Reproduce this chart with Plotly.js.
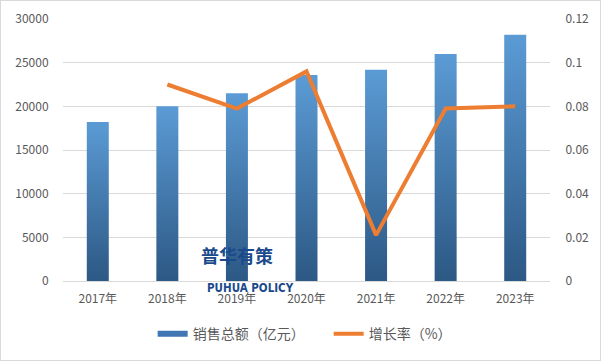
<!DOCTYPE html>
<html>
<head>
<meta charset="utf-8">
<script src="https://cdn.plot.ly/plotly-3.0.1.min.js"></script>
<style>
html,body{margin:0;padding:0;background:#fff;}
#chart{width:599px;height:359px;border:1px solid #d9d9d9;}
</style>
</head>
<body>
<div id="chart"></div>
<script>
const years = ['2017年','2018年','2019年','2020年','2021年','2022年','2023年'];
const sales = [18200, 20000, 21500, 23600, 24200, 26000, 28200];
const growth = [null, 0.090, 0.079, 0.096, 0.021, 0.079, 0.080];
const salesName = '销售总额（亿元）';
const growthName = '增长率（%）';

const FONT = '"Noto Sans CJK SC", "Noto Sans", sans-serif';
const GRAY = '#595959';

const traces = [
  {type:'bar', x:years, y:sales, name:salesName, marker:{color:'#4a86c5'}, hoverinfo:'none'},
  {type:'scatter', mode:'lines', x:years, y:growth, yaxis:'y2', name:growthName,
   line:{color:'#ED7D31', width:4}, connectgaps:false, hoverinfo:'none'}
];

const layout = {
  width:599, height:359,
  margin:{l:62, r:50, t:18, b:79},
  paper_bgcolor:'#fff', plot_bgcolor:'#fff',
  font:{family:FONT, size:12, color:GRAY},
  bargap:0.684,
  showlegend:true,
  legend:{orientation:'h', x:0.547, xanchor:'center', xref:'container', y:0.072, yanchor:'middle', yref:'container',
          font:{family:FONT, size:14, color:GRAY}, itemwidth:30, traceorder:'normal', entrywidth:131},
  xaxis:{type:'category', showgrid:false, showline:true, linecolor:'#d9d9d9', linewidth:1,
         ticks:'outside', ticklen:7, tickcolor:'rgba(0,0,0,0)',
         tickfont:{family:FONT, size:12, color:GRAY}},
  yaxis:{range:[0,30000], dtick:5000, tickformat:'d', showgrid:true, gridcolor:'#d9d9d9',
         zeroline:false, showline:false, ticks:'outside', ticklen:11, tickcolor:'rgba(0,0,0,0)',
         tickfont:{family:FONT, size:12, color:GRAY}},
  yaxis2:{range:[0,0.12], dtick:0.02, overlaying:'y', side:'right', showgrid:false,
          zeroline:false, showline:false, ticks:'outside', ticklen:12, tickcolor:'rgba(0,0,0,0)',
          tickfont:{family:FONT, size:12, color:GRAY}},
  annotations:[
    {xref:'paper', yref:'paper', x:0.357, y:0.042, text:'<b>普华有策</b>', showarrow:false,
     font:{family:'"Noto Sans CJK SC"', size:18, color:'#1a4a8c'}},
    {xref:'paper', yref:'paper', x:0.384, y:-0.061, text:'<b>PUHUA POLICY</b>', showarrow:false,
     font:{family:'"DejaVu Sans Condensed", "DejaVu Sans"', size:11.5, color:'#1a4a8c'}}
  ]
};

Plotly.newPlot('chart', traces, layout, {staticPlot:true}).then(function(gd){
  const svg = gd.querySelector('.main-svg');
  const ns = 'http://www.w3.org/2000/svg';
  let defs = svg.querySelector('defs');
  if(!defs){ defs = document.createElementNS(ns,'defs'); svg.insertBefore(defs, svg.firstChild); }
  const g = document.createElementNS(ns,'linearGradient');
  g.setAttribute('id','barGrad'); g.setAttribute('x1','0'); g.setAttribute('y1','0');
  g.setAttribute('x2','0'); g.setAttribute('y2','1');
  [['0','#5b9bd5'],['1','#2c5884']].forEach(function(s){
    const st = document.createElementNS(ns,'stop');
    st.setAttribute('offset', s[0]); st.setAttribute('stop-color', s[1]);
    g.appendChild(st);
  });
  defs.appendChild(g);
  gd.querySelectorAll('.barlayer .point path').forEach(function(p){ p.style.fill='url(#barGrad)'; });
  const lp = gd.querySelectorAll('.legend .traces')[0];
  if(lp){ lp.querySelectorAll('.legendpoints path').forEach(function(p){
    p.setAttribute('d','M15,3H-15V-3H15Z'); p.style.fill='#3f76b3'; }); }
});
</script>
</body>
</html>
